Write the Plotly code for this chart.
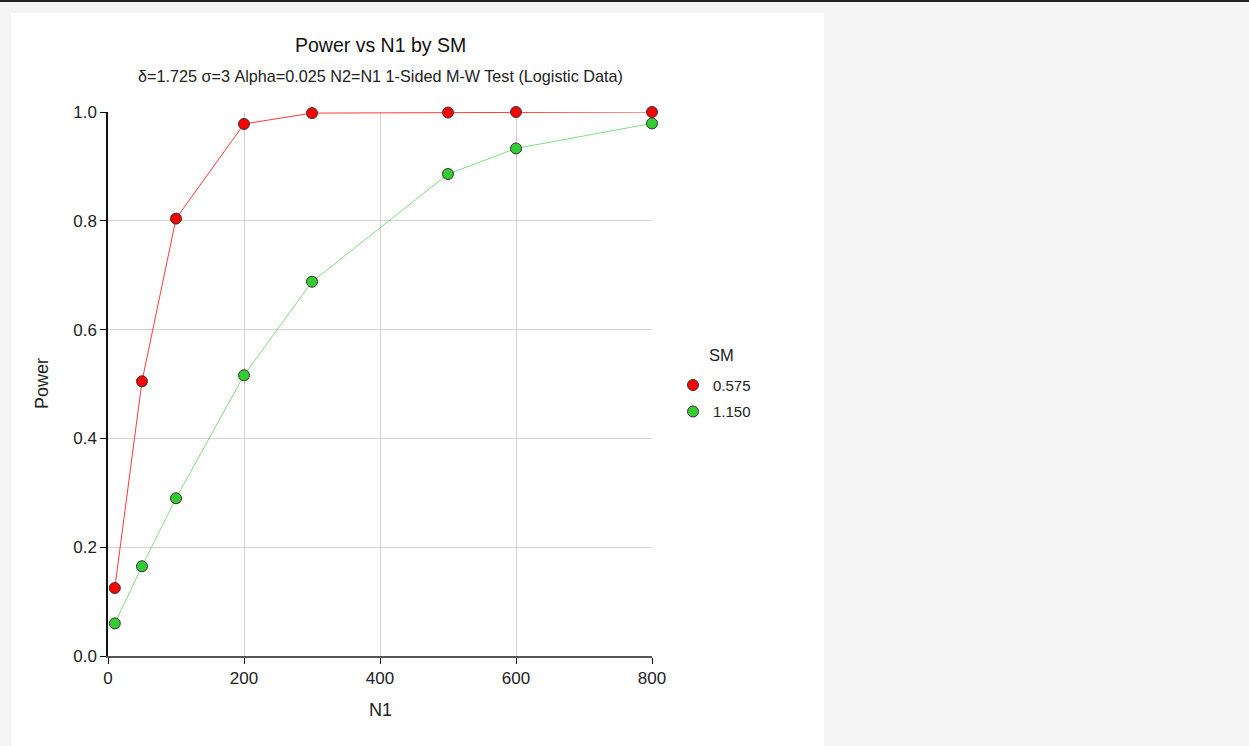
import plotly.graph_objects as go

# Sample sizes (N1) and power for each SM level
n1 = [10, 50, 100, 200, 300, 500, 600, 800]
power_sm_0575 = [0.125, 0.505, 0.804, 0.978, 0.998, 0.999, 1.0, 1.0]
power_sm_1150 = [0.060, 0.165, 0.290, 0.516, 0.688, 0.886, 0.933, 0.979]
sm_labels = ["0.575", "1.150"]

title_text = "Power vs N1 by SM"
subtitle_text = "δ=1.725 σ=3 Alpha=0.025 N2=N1 1-Sided M-W Test (Logistic Data)"

FONT = "Arial, Liberation Sans, sans-serif"

# plot area in pixels
W, H = 1249, 746
L, R, T, B = 108, 652, 112, 656.5
pw, ph = R - L, B - T


def px_x(px):
    return (px - L) / pw


def px_y(py):
    return (B - py) / ph


fig = go.Figure()

series = [
    (power_sm_0575, sm_labels[0], "#ff0000", "#ff3a3a"),
    (power_sm_1150, sm_labels[1], "#33cc33", "#80de80"),
]
# connecting lines (not in legend)
for values, name, fill, line in series:
    fig.add_trace(go.Scatter(
        x=n1, y=values, mode="lines", showlegend=False, hoverinfo="skip",
        line=dict(color=line, width=1),
    ))
# markers, one legend group each so the entries can be spaced
for values, name, fill, line in series:
    fig.add_trace(go.Scatter(
        x=n1, y=values, name=name, mode="markers", legendgroup=name,
        marker=dict(size=11, color=fill, line=dict(color="#333333", width=1)),
        cliponaxis=False,
    ))

fig.update_layout(
    width=W, height=H,
    margin=dict(l=L, r=W - R, t=T, b=H - B, autoexpand=False),
    paper_bgcolor="#f5f5f5",
    plot_bgcolor="white",
    font=dict(family=FONT, color="#222222"),
    showlegend=True,
    legend=dict(
        font=dict(size=15),
        x=px_x(673), xanchor="left",
        y=px_y(369), yanchor="top",
        bgcolor="rgba(0,0,0,0)",
        traceorder="grouped",
        tracegroupgap=4,
    ),
    shapes=[
        # white panel behind the chart
        dict(type="rect", xref="paper", yref="paper",
             x0=px_x(11), x1=px_x(824), y0=px_y(13), y1=px_y(H + 5),
             fillcolor="white", line=dict(width=0), layer="below"),
        # dark rule along the top edge
        dict(type="line", xref="paper", yref="paper",
             x0=px_x(-5), x1=px_x(W + 5), y0=px_y(1), y1=px_y(1),
             line=dict(color="#222222", width=2)),
    ],
    annotations=[
        dict(text=title_text, xref="paper", yref="paper", x=0.5, y=px_y(44.5),
             xanchor="center", yanchor="middle", showarrow=False,
             font=dict(size=19.5, color="#111111")),
        dict(text=subtitle_text, xref="paper", yref="paper", x=0.5, y=px_y(75.5),
             xanchor="center", yanchor="middle", showarrow=False,
             font=dict(size=16.2, color="#222222")),
        dict(text="SM", xref="paper", yref="paper", x=px_x(721), y=px_y(355),
             xanchor="center", yanchor="middle", showarrow=False,
             font=dict(size=16.5, color="#222222")),
        dict(text="N1", xref="paper", yref="paper", x=0.5, y=px_y(711),
             xanchor="center", yanchor="middle", showarrow=False,
             font=dict(size=18, color="#222222")),
        dict(text="Power", xref="paper", yref="paper", x=px_x(42), y=0.5,
             xanchor="center", yanchor="middle", showarrow=False, textangle=-90,
             font=dict(size=18, color="#222222")),
    ],
)

fig.update_xaxes(
    range=[0, 800], tickvals=[0, 200, 400, 600, 800],
    showgrid=True, gridcolor="#d3d3d3", gridwidth=1,
    zeroline=False, showline=True, linecolor="#555555", linewidth=1.5,
    ticks="outside", ticklen=6, tickcolor="#111111",
    tickfont=dict(size=17, color="#222222"),
)
fig.update_yaxes(
    range=[0, 1], tickvals=[0, 0.2, 0.4, 0.6, 0.8, 1.0], tickformat=".1f",
    showgrid=True, gridcolor="#d3d3d3", gridwidth=1,
    zeroline=False, showline=True, linecolor="#111111", linewidth=1.5,
    ticks="outside", ticklen=6, tickcolor="#111111",
    tickfont=dict(size=17, color="#222222"),
)

fig.write_html("out.html")
